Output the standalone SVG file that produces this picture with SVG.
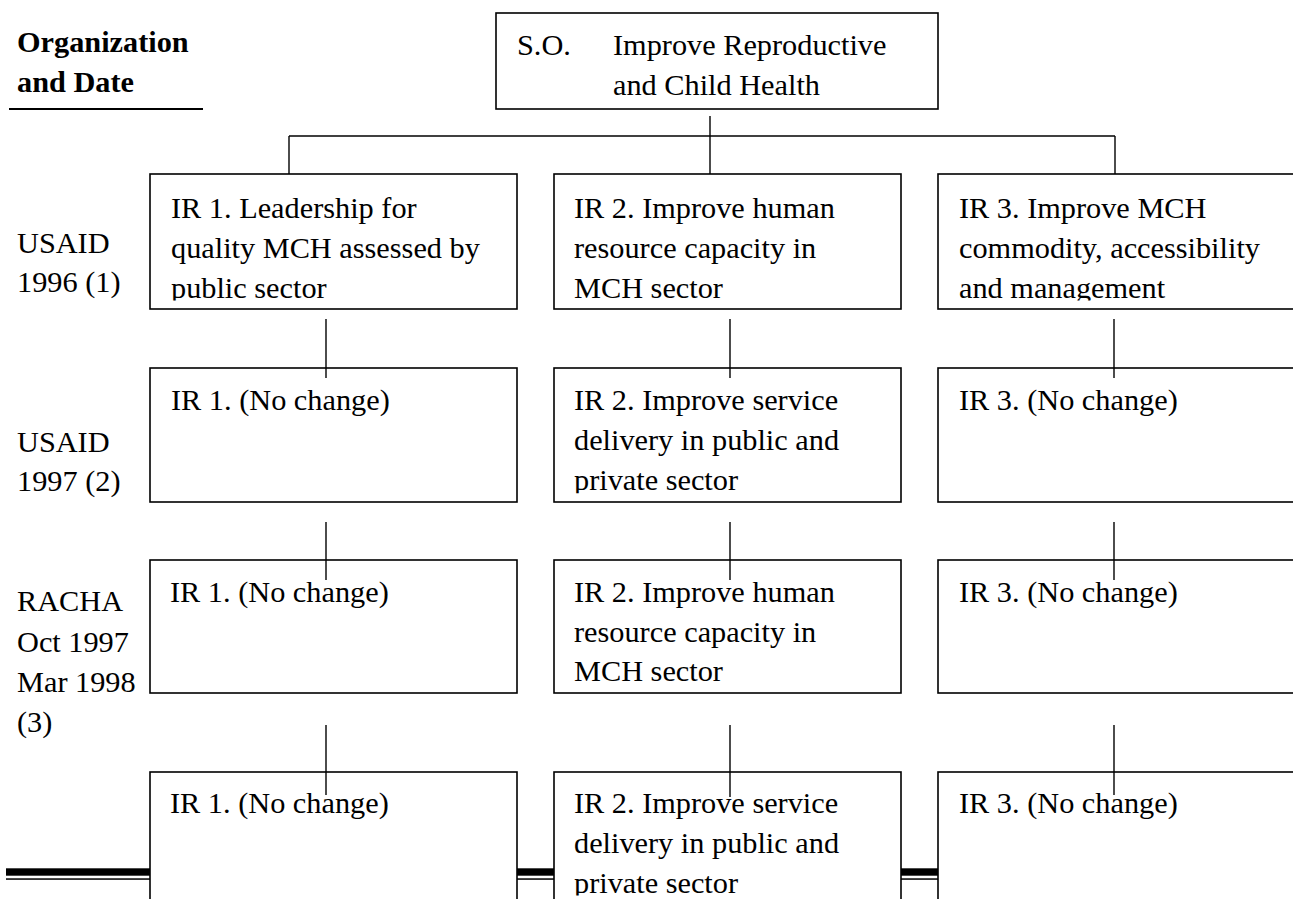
<svg xmlns="http://www.w3.org/2000/svg" width="1293" height="899" viewBox="0 0 1293 899">
<style>
  text { font-family: "Liberation Serif", "Times New Roman", serif; font-size: 30.3px; fill: #000; }
  .b { font-weight: bold; }
  .box { fill: none; stroke: #000; stroke-width: 1.6; }
  .con { fill: none; stroke: #000; stroke-width: 1.4; }
  .band { fill: #000; }
</style>
<defs>
  <clipPath id="clipR1"><rect x="0" y="0" width="1293" height="300.5"/></clipPath>
  <clipPath id="clipR2"><rect x="0" y="0" width="1293" height="493.3"/></clipPath>
  <clipPath id="clipR4"><rect x="0" y="0" width="1293" height="895.5"/></clipPath>
</defs>
<rect width="1293" height="899" fill="#fff"/>

<g id="header">
  <text class="b" x="17" y="52">Organization</text>
  <text class="b" x="17" y="92">and Date</text>
  <rect class="band" x="9" y="108" width="194" height="2"/>
</g>

<g id="labels">
  <text x="17" y="253">USAID</text>
  <text x="17" y="292">1996 (1)</text>
  <text x="17" y="452">USAID</text>
  <text x="17" y="491">1997 (2)</text>
  <text x="17" y="611">RACHA</text>
  <text x="17" y="651.5">Oct 1997</text>
  <text x="17" y="691.5">Mar 1998</text>
  <text x="17" y="731.5">(3)</text>
</g>

<g id="connectors">
  <line class="con" x1="710" y1="116" x2="710" y2="174"/>
  <line class="con" x1="289" y1="136" x2="1115" y2="136"/>
  <line class="con" x1="289" y1="136" x2="289" y2="174"/>
  <line class="con" x1="1115" y1="136" x2="1115" y2="174"/>
  <line class="con" x1="326" y1="319" x2="326" y2="378"/>
  <line class="con" x1="730" y1="319" x2="730" y2="378"/>
  <line class="con" x1="1114" y1="319" x2="1114" y2="378"/>
  <line class="con" x1="326" y1="522" x2="326" y2="580"/>
  <line class="con" x1="730" y1="522" x2="730" y2="580"/>
  <line class="con" x1="1114" y1="522" x2="1114" y2="580"/>
  <line class="con" x1="326" y1="725" x2="326" y2="795"/>
  <line class="con" x1="730" y1="725" x2="730" y2="797"/>
  <line class="con" x1="1114" y1="725" x2="1114" y2="795"/>
</g>

<g id="so">
  <rect class="box" x="496" y="13" width="442" height="96"/>
  <text x="517" y="55">S.O.</text>
  <text x="613" y="55">Improve Reproductive</text>
  <text x="613" y="95">and Child Health</text>
</g>

<g id="r1c1">
  <rect class="box" x="150" y="174" width="367" height="135"/>
  <g clip-path="url(#clipR1)">
    <text x="171" y="218">IR 1. Leadership for</text>
    <text x="171" y="258">quality MCH assessed by</text>
    <text x="171" y="297.5">public sector</text>
  </g>
</g>
<g id="r1c2">
  <rect class="box" x="554" y="174" width="347" height="135"/>
  <g clip-path="url(#clipR1)">
    <text x="574" y="218">IR 2. Improve human</text>
    <text x="574" y="258">resource capacity in</text>
    <text x="574" y="297.5">MCH sector</text>
  </g>
</g>
<g id="r1c3">
  <rect class="box" x="938" y="174" width="370" height="135"/>
  <g clip-path="url(#clipR1)">
    <text x="959" y="218">IR 3. Improve MCH</text>
    <text x="959" y="258">commodity, accessibility</text>
    <text x="959" y="297.5">and management</text>
  </g>
</g>

<g id="r2c1">
  <rect class="box" x="150" y="368" width="367" height="134"/>
  <text x="171" y="410">IR 1. (No change)</text>
</g>
<g id="r2c2">
  <rect class="box" x="554" y="368" width="347" height="134"/>
  <g clip-path="url(#clipR2)">
    <text x="574" y="410">IR 2. Improve service</text>
    <text x="574" y="449.5">delivery in public and</text>
    <text x="574" y="490">private sector</text>
  </g>
</g>
<g id="r2c3">
  <rect class="box" x="938" y="368" width="370" height="134"/>
  <text x="959" y="410">IR 3. (No change)</text>
</g>

<g id="r3c1">
  <rect class="box" x="150" y="560" width="367" height="133"/>
  <text x="170" y="602">IR 1. (No change)</text>
</g>
<g id="r3c2">
  <rect class="box" x="554" y="560" width="347" height="133"/>
  <text x="574" y="602">IR 2. Improve human</text>
  <text x="574" y="641.5">resource capacity in</text>
  <text x="574" y="681">MCH sector</text>
</g>
<g id="r3c3">
  <rect class="box" x="938" y="560" width="370" height="133"/>
  <text x="959" y="602">IR 3. (No change)</text>
</g>

<g id="r4c1">
  <rect class="box" x="150" y="772" width="367" height="140"/>
  <text x="170" y="813">IR 1. (No change)</text>
</g>
<g id="r4c2">
  <rect class="box" x="554" y="772" width="347" height="140"/>
  <g clip-path="url(#clipR4)">
    <text x="574" y="813">IR 2. Improve service</text>
    <text x="574" y="853">delivery in public and</text>
    <text x="574" y="893">private sector</text>
  </g>
</g>
<g id="r4c3">
  <rect class="box" x="938" y="772" width="370" height="140"/>
  <text x="959" y="813">IR 3. (No change)</text>
</g>

<g id="rule">
  <rect class="band" x="6" y="868.3" width="144" height="7.4"/>
  <rect class="band" x="6" y="878.3" width="144" height="1.5"/>
  <rect class="band" x="517" y="868.3" width="37" height="7.4"/>
  <rect class="band" x="517" y="878.3" width="37" height="1.5"/>
  <rect class="band" x="901" y="868.3" width="37" height="7.4"/>
  <rect class="band" x="901" y="878.3" width="37" height="1.5"/>
</g>
</svg>
